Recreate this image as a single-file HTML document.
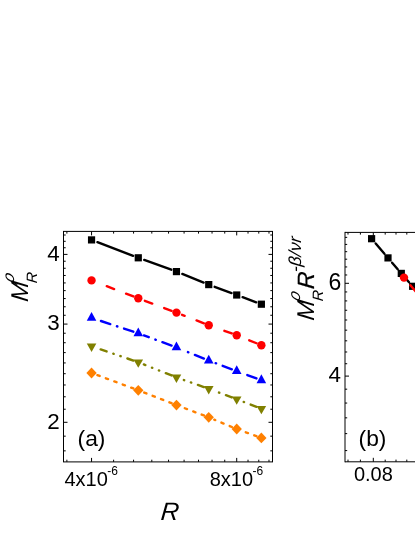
<!DOCTYPE html>
<html><head><meta charset="utf-8"><title>chart</title>
<style>html,body{margin:0;padding:0;background:#fff;}body{width:415px;height:537px;overflow:hidden;font-family:"Liberation Sans",sans-serif;}svg{display:block;will-change:transform;}</style>
</head><body>
<svg width="415" height="537" viewBox="0 0 415 537"><rect x="63.50" y="231.40" width="209.00" height="230.50" fill="none" stroke="#000" stroke-width="1.0"/>
<line x1="66.88" y1="461.90" x2="66.88" y2="459.70" stroke="#000" stroke-width="1.0" />
<line x1="66.88" y1="231.40" x2="66.88" y2="233.60" stroke="#000" stroke-width="1.0" />
<line x1="91.55" y1="461.90" x2="91.55" y2="457.90" stroke="#000" stroke-width="1.0" />
<line x1="91.55" y1="231.40" x2="91.55" y2="235.40" stroke="#000" stroke-width="1.0" />
<line x1="113.61" y1="461.90" x2="113.61" y2="459.70" stroke="#000" stroke-width="1.0" />
<line x1="113.61" y1="231.40" x2="113.61" y2="233.60" stroke="#000" stroke-width="1.0" />
<line x1="133.57" y1="461.90" x2="133.57" y2="459.70" stroke="#000" stroke-width="1.0" />
<line x1="133.57" y1="231.40" x2="133.57" y2="233.60" stroke="#000" stroke-width="1.0" />
<line x1="151.80" y1="461.90" x2="151.80" y2="459.70" stroke="#000" stroke-width="1.0" />
<line x1="151.80" y1="231.40" x2="151.80" y2="233.60" stroke="#000" stroke-width="1.0" />
<line x1="168.56" y1="461.90" x2="168.56" y2="459.70" stroke="#000" stroke-width="1.0" />
<line x1="168.56" y1="231.40" x2="168.56" y2="233.60" stroke="#000" stroke-width="1.0" />
<line x1="184.08" y1="461.90" x2="184.08" y2="459.70" stroke="#000" stroke-width="1.0" />
<line x1="184.08" y1="231.40" x2="184.08" y2="233.60" stroke="#000" stroke-width="1.0" />
<line x1="198.53" y1="461.90" x2="198.53" y2="459.70" stroke="#000" stroke-width="1.0" />
<line x1="198.53" y1="231.40" x2="198.53" y2="233.60" stroke="#000" stroke-width="1.0" />
<line x1="212.04" y1="461.90" x2="212.04" y2="459.70" stroke="#000" stroke-width="1.0" />
<line x1="212.04" y1="231.40" x2="212.04" y2="233.60" stroke="#000" stroke-width="1.0" />
<line x1="224.74" y1="461.90" x2="224.74" y2="459.70" stroke="#000" stroke-width="1.0" />
<line x1="224.74" y1="231.40" x2="224.74" y2="233.60" stroke="#000" stroke-width="1.0" />
<line x1="236.71" y1="461.90" x2="236.71" y2="457.90" stroke="#000" stroke-width="1.0" />
<line x1="236.71" y1="231.40" x2="236.71" y2="235.40" stroke="#000" stroke-width="1.0" />
<line x1="248.03" y1="461.90" x2="248.03" y2="459.70" stroke="#000" stroke-width="1.0" />
<line x1="248.03" y1="231.40" x2="248.03" y2="233.60" stroke="#000" stroke-width="1.0" />
<line x1="258.77" y1="461.90" x2="258.77" y2="459.70" stroke="#000" stroke-width="1.0" />
<line x1="258.77" y1="231.40" x2="258.77" y2="233.60" stroke="#000" stroke-width="1.0" />
<line x1="268.99" y1="461.90" x2="268.99" y2="459.70" stroke="#000" stroke-width="1.0" />
<line x1="268.99" y1="231.40" x2="268.99" y2="233.60" stroke="#000" stroke-width="1.0" />
<line x1="63.50" y1="450.85" x2="65.70" y2="450.85" stroke="#000" stroke-width="1.0" />
<line x1="272.50" y1="450.85" x2="270.30" y2="450.85" stroke="#000" stroke-width="1.0" />
<line x1="63.50" y1="436.16" x2="65.70" y2="436.16" stroke="#000" stroke-width="1.0" />
<line x1="272.50" y1="436.16" x2="270.30" y2="436.16" stroke="#000" stroke-width="1.0" />
<line x1="63.50" y1="422.31" x2="67.50" y2="422.31" stroke="#000" stroke-width="1.0" />
<line x1="272.50" y1="422.31" x2="268.50" y2="422.31" stroke="#000" stroke-width="1.0" />
<line x1="63.50" y1="409.22" x2="65.70" y2="409.22" stroke="#000" stroke-width="1.0" />
<line x1="272.50" y1="409.22" x2="270.30" y2="409.22" stroke="#000" stroke-width="1.0" />
<line x1="63.50" y1="396.79" x2="65.70" y2="396.79" stroke="#000" stroke-width="1.0" />
<line x1="272.50" y1="396.79" x2="270.30" y2="396.79" stroke="#000" stroke-width="1.0" />
<line x1="63.50" y1="384.97" x2="65.70" y2="384.97" stroke="#000" stroke-width="1.0" />
<line x1="272.50" y1="384.97" x2="270.30" y2="384.97" stroke="#000" stroke-width="1.0" />
<line x1="63.50" y1="373.70" x2="65.70" y2="373.70" stroke="#000" stroke-width="1.0" />
<line x1="272.50" y1="373.70" x2="270.30" y2="373.70" stroke="#000" stroke-width="1.0" />
<line x1="63.50" y1="362.93" x2="65.70" y2="362.93" stroke="#000" stroke-width="1.0" />
<line x1="272.50" y1="362.93" x2="270.30" y2="362.93" stroke="#000" stroke-width="1.0" />
<line x1="63.50" y1="352.62" x2="65.70" y2="352.62" stroke="#000" stroke-width="1.0" />
<line x1="272.50" y1="352.62" x2="270.30" y2="352.62" stroke="#000" stroke-width="1.0" />
<line x1="63.50" y1="342.73" x2="65.70" y2="342.73" stroke="#000" stroke-width="1.0" />
<line x1="272.50" y1="342.73" x2="270.30" y2="342.73" stroke="#000" stroke-width="1.0" />
<line x1="63.50" y1="333.23" x2="65.70" y2="333.23" stroke="#000" stroke-width="1.0" />
<line x1="272.50" y1="333.23" x2="270.30" y2="333.23" stroke="#000" stroke-width="1.0" />
<line x1="63.50" y1="324.09" x2="67.50" y2="324.09" stroke="#000" stroke-width="1.0" />
<line x1="272.50" y1="324.09" x2="268.50" y2="324.09" stroke="#000" stroke-width="1.0" />
<line x1="63.50" y1="315.28" x2="65.70" y2="315.28" stroke="#000" stroke-width="1.0" />
<line x1="272.50" y1="315.28" x2="270.30" y2="315.28" stroke="#000" stroke-width="1.0" />
<line x1="63.50" y1="306.78" x2="65.70" y2="306.78" stroke="#000" stroke-width="1.0" />
<line x1="272.50" y1="306.78" x2="270.30" y2="306.78" stroke="#000" stroke-width="1.0" />
<line x1="63.50" y1="298.57" x2="65.70" y2="298.57" stroke="#000" stroke-width="1.0" />
<line x1="272.50" y1="298.57" x2="270.30" y2="298.57" stroke="#000" stroke-width="1.0" />
<line x1="63.50" y1="290.62" x2="65.70" y2="290.62" stroke="#000" stroke-width="1.0" />
<line x1="272.50" y1="290.62" x2="270.30" y2="290.62" stroke="#000" stroke-width="1.0" />
<line x1="63.50" y1="282.93" x2="65.70" y2="282.93" stroke="#000" stroke-width="1.0" />
<line x1="272.50" y1="282.93" x2="270.30" y2="282.93" stroke="#000" stroke-width="1.0" />
<line x1="63.50" y1="275.48" x2="65.70" y2="275.48" stroke="#000" stroke-width="1.0" />
<line x1="272.50" y1="275.48" x2="270.30" y2="275.48" stroke="#000" stroke-width="1.0" />
<line x1="63.50" y1="268.25" x2="65.70" y2="268.25" stroke="#000" stroke-width="1.0" />
<line x1="272.50" y1="268.25" x2="270.30" y2="268.25" stroke="#000" stroke-width="1.0" />
<line x1="63.50" y1="261.22" x2="65.70" y2="261.22" stroke="#000" stroke-width="1.0" />
<line x1="272.50" y1="261.22" x2="270.30" y2="261.22" stroke="#000" stroke-width="1.0" />
<line x1="63.50" y1="254.40" x2="67.50" y2="254.40" stroke="#000" stroke-width="1.0" />
<line x1="272.50" y1="254.40" x2="268.50" y2="254.40" stroke="#000" stroke-width="1.0" />
<line x1="63.50" y1="247.76" x2="65.70" y2="247.76" stroke="#000" stroke-width="1.0" />
<line x1="272.50" y1="247.76" x2="270.30" y2="247.76" stroke="#000" stroke-width="1.0" />
<line x1="63.50" y1="241.30" x2="65.70" y2="241.30" stroke="#000" stroke-width="1.0" />
<line x1="272.50" y1="241.30" x2="270.30" y2="241.30" stroke="#000" stroke-width="1.0" />
<line x1="63.50" y1="235.01" x2="65.70" y2="235.01" stroke="#000" stroke-width="1.0" />
<line x1="272.50" y1="235.01" x2="270.30" y2="235.01" stroke="#000" stroke-width="1.0" />
<line x1="345.00" y1="231.90" x2="345.00" y2="462.30" stroke="#000" stroke-width="1.0" />
<line x1="345.00" y1="232.40" x2="415.00" y2="232.40" stroke="#000" stroke-width="1.0" />
<line x1="345.00" y1="461.80" x2="415.00" y2="461.80" stroke="#000" stroke-width="1.0" />
<line x1="348.00" y1="461.80" x2="348.00" y2="459.60" stroke="#000" stroke-width="1.0" />
<line x1="348.00" y1="232.40" x2="348.00" y2="234.60" stroke="#000" stroke-width="1.0" />
<line x1="360.40" y1="461.80" x2="360.40" y2="459.60" stroke="#000" stroke-width="1.0" />
<line x1="360.40" y1="232.40" x2="360.40" y2="234.60" stroke="#000" stroke-width="1.0" />
<line x1="373.30" y1="461.80" x2="373.30" y2="457.80" stroke="#000" stroke-width="1.0" />
<line x1="373.30" y1="232.40" x2="373.30" y2="236.40" stroke="#000" stroke-width="1.0" />
<line x1="385.20" y1="461.80" x2="385.20" y2="459.60" stroke="#000" stroke-width="1.0" />
<line x1="385.20" y1="232.40" x2="385.20" y2="234.60" stroke="#000" stroke-width="1.0" />
<line x1="396.00" y1="461.80" x2="396.00" y2="459.60" stroke="#000" stroke-width="1.0" />
<line x1="396.00" y1="232.40" x2="396.00" y2="234.60" stroke="#000" stroke-width="1.0" />
<line x1="406.80" y1="461.80" x2="406.80" y2="459.60" stroke="#000" stroke-width="1.0" />
<line x1="406.80" y1="232.40" x2="406.80" y2="234.60" stroke="#000" stroke-width="1.0" />
<line x1="345.00" y1="450.58" x2="347.20" y2="450.58" stroke="#000" stroke-width="1.0" />
<line x1="345.00" y1="433.62" x2="347.20" y2="433.62" stroke="#000" stroke-width="1.0" />
<line x1="345.00" y1="417.83" x2="347.20" y2="417.83" stroke="#000" stroke-width="1.0" />
<line x1="345.00" y1="403.06" x2="347.20" y2="403.06" stroke="#000" stroke-width="1.0" />
<line x1="345.00" y1="389.18" x2="347.20" y2="389.18" stroke="#000" stroke-width="1.0" />
<line x1="345.00" y1="376.10" x2="349.00" y2="376.10" stroke="#000" stroke-width="1.0" />
<line x1="345.00" y1="363.73" x2="347.20" y2="363.73" stroke="#000" stroke-width="1.0" />
<line x1="345.00" y1="351.99" x2="347.20" y2="351.99" stroke="#000" stroke-width="1.0" />
<line x1="345.00" y1="340.82" x2="347.20" y2="340.82" stroke="#000" stroke-width="1.0" />
<line x1="345.00" y1="330.17" x2="347.20" y2="330.17" stroke="#000" stroke-width="1.0" />
<line x1="345.00" y1="320.00" x2="347.20" y2="320.00" stroke="#000" stroke-width="1.0" />
<line x1="345.00" y1="310.26" x2="347.20" y2="310.26" stroke="#000" stroke-width="1.0" />
<line x1="345.00" y1="300.91" x2="347.20" y2="300.91" stroke="#000" stroke-width="1.0" />
<line x1="345.00" y1="291.94" x2="347.20" y2="291.94" stroke="#000" stroke-width="1.0" />
<line x1="345.00" y1="283.30" x2="349.00" y2="283.30" stroke="#000" stroke-width="1.0" />
<line x1="345.00" y1="274.98" x2="347.20" y2="274.98" stroke="#000" stroke-width="1.0" />
<line x1="345.00" y1="266.94" x2="347.20" y2="266.94" stroke="#000" stroke-width="1.0" />
<line x1="345.00" y1="259.19" x2="347.20" y2="259.19" stroke="#000" stroke-width="1.0" />
<line x1="345.00" y1="251.68" x2="347.20" y2="251.68" stroke="#000" stroke-width="1.0" />
<line x1="345.00" y1="244.41" x2="347.20" y2="244.41" stroke="#000" stroke-width="1.0" />
<line x1="345.00" y1="237.37" x2="347.20" y2="237.37" stroke="#000" stroke-width="1.0" />
<line x1="133.14" y1="255.83" x2="97.43" y2="242.15" stroke="#000000" stroke-width="2.4" stroke-linecap="round" />
<line x1="171.29" y1="269.73" x2="144.20" y2="259.94" stroke="#000000" stroke-width="2.4" stroke-linecap="round" />
<line x1="203.64" y1="282.55" x2="182.31" y2="273.95" stroke="#000000" stroke-width="2.4" stroke-linecap="round" />
<line x1="231.55" y1="293.08" x2="214.65" y2="286.80" stroke="#000000" stroke-width="2.4" stroke-linecap="round" />
<line x1="256.22" y1="302.28" x2="242.61" y2="297.20" stroke="#000000" stroke-width="2.4" stroke-linecap="round" />
<line x1="133.42" y1="296.44" x2="97.15" y2="282.55" stroke="#ff0000" stroke-width="2.4" stroke-linecap="round" stroke-dasharray="7.9 12.75"/>
<line x1="171.59" y1="310.78" x2="143.90" y2="300.40" stroke="#ff0000" stroke-width="2.4" stroke-linecap="round" stroke-dasharray="7.9 12.75"/>
<line x1="203.90" y1="323.31" x2="182.05" y2="314.78" stroke="#ff0000" stroke-width="2.4" stroke-linecap="round" stroke-dasharray="7.9 12.75"/>
<line x1="231.81" y1="333.45" x2="214.39" y2="327.22" stroke="#ff0000" stroke-width="2.4" stroke-linecap="round" stroke-dasharray="7.9 12.75"/>
<line x1="256.55" y1="343.25" x2="242.27" y2="337.45" stroke="#ff0000" stroke-width="2.4" stroke-linecap="round" stroke-dasharray="7.9 12.75"/>
<line x1="133.34" y1="331.67" x2="97.25" y2="319.78" stroke="#0000ff" stroke-width="2.4" stroke-linecap="round" stroke-dasharray="9.8 7.0 0.5 7.0"/>
<line x1="171.58" y1="345.60" x2="143.91" y2="335.38" stroke="#0000ff" stroke-width="2.4" stroke-linecap="round" stroke-dasharray="9.8 7.0 0.5 7.0"/>
<line x1="203.93" y1="358.63" x2="182.01" y2="349.67" stroke="#0000ff" stroke-width="2.4" stroke-linecap="round" stroke-dasharray="9.8 7.0 0.5 7.0"/>
<line x1="231.84" y1="369.27" x2="214.36" y2="362.71" stroke="#0000ff" stroke-width="2.4" stroke-linecap="round" stroke-dasharray="9.8 7.0 0.5 7.0"/>
<line x1="256.49" y1="378.40" x2="242.34" y2="373.18" stroke="#0000ff" stroke-width="2.4" stroke-linecap="round" stroke-dasharray="9.8 7.0 0.5 7.0"/>
<line x1="133.36" y1="360.52" x2="97.23" y2="348.23" stroke="#808000" stroke-width="2.4" stroke-linecap="round" stroke-dasharray="6.3 7.05 0.4 7.05 0.4 7.05"/>
<line x1="171.63" y1="375.48" x2="143.85" y2="364.42" stroke="#808000" stroke-width="2.4" stroke-linecap="round" stroke-dasharray="6.3 7.05 0.4 7.05 0.4 7.05"/>
<line x1="203.84" y1="387.07" x2="182.12" y2="379.40" stroke="#808000" stroke-width="2.4" stroke-linecap="round" stroke-dasharray="6.3 7.05 0.4 7.05 0.4 7.05"/>
<line x1="231.83" y1="397.39" x2="214.37" y2="390.89" stroke="#808000" stroke-width="2.4" stroke-linecap="round" stroke-dasharray="6.3 7.05 0.4 7.05 0.4 7.05"/>
<line x1="256.52" y1="406.83" x2="242.31" y2="401.36" stroke="#808000" stroke-width="2.4" stroke-linecap="round" stroke-dasharray="6.3 7.05 0.4 7.05 0.4 7.05"/>
<line x1="133.40" y1="388.49" x2="97.18" y2="375.08" stroke="#ff8000" stroke-width="2.4" stroke-linecap="round" stroke-dasharray="2.4 6.6"/>
<line x1="171.61" y1="403.22" x2="143.87" y2="392.47" stroke="#ff8000" stroke-width="2.4" stroke-linecap="round" stroke-dasharray="2.4 6.6"/>
<line x1="203.88" y1="415.46" x2="182.07" y2="407.22" stroke="#ff8000" stroke-width="2.4" stroke-linecap="round" stroke-dasharray="2.4 6.6"/>
<line x1="231.91" y1="426.99" x2="214.28" y2="419.62" stroke="#ff8000" stroke-width="2.4" stroke-linecap="round" stroke-dasharray="2.4 6.6"/>
<line x1="256.48" y1="436.14" x2="242.35" y2="431.04" stroke="#ff8000" stroke-width="2.4" stroke-linecap="round" stroke-dasharray="2.4 6.6"/>
<rect x="87.95" y="236.30" width="7.2" height="7.2" fill="#000000"/>
<rect x="134.68" y="254.20" width="7.2" height="7.2" fill="#000000"/>
<rect x="172.86" y="268.00" width="7.2" height="7.2" fill="#000000"/>
<rect x="205.14" y="281.00" width="7.2" height="7.2" fill="#000000"/>
<rect x="233.11" y="291.40" width="7.2" height="7.2" fill="#000000"/>
<rect x="257.77" y="300.60" width="7.2" height="7.2" fill="#000000"/>
<circle cx="91.55" cy="280.40" r="4.2" fill="#ff0000"/>
<circle cx="138.28" cy="298.30" r="4.2" fill="#ff0000"/>
<circle cx="176.46" cy="312.60" r="4.2" fill="#ff0000"/>
<circle cx="208.74" cy="325.20" r="4.2" fill="#ff0000"/>
<circle cx="236.71" cy="335.20" r="4.2" fill="#ff0000"/>
<circle cx="261.37" cy="345.20" r="4.2" fill="#ff0000"/>
<polygon points="91.55,312.03 86.75,320.83 96.35,320.83" fill="#0000ff"/>
<polygon points="138.28,327.43 133.48,336.23 143.08,336.23" fill="#0000ff"/>
<polygon points="176.46,341.53 171.66,350.33 181.26,350.33" fill="#0000ff"/>
<polygon points="208.74,354.73 203.94,363.53 213.54,363.53" fill="#0000ff"/>
<polygon points="236.71,365.23 231.91,374.03 241.51,374.03" fill="#0000ff"/>
<polygon points="261.37,374.33 256.57,383.13 266.17,383.13" fill="#0000ff"/>
<polygon points="91.55,351.90 86.75,343.50 96.35,343.50" fill="#808000"/>
<polygon points="138.28,367.80 133.48,359.40 143.08,359.40" fill="#808000"/>
<polygon points="176.46,383.00 171.66,374.60 181.26,374.60" fill="#808000"/>
<polygon points="208.74,394.40 203.94,386.00 213.54,386.00" fill="#808000"/>
<polygon points="236.71,404.80 231.91,396.40 241.51,396.40" fill="#808000"/>
<polygon points="261.37,414.30 256.57,405.90 266.17,405.90" fill="#808000"/>
<polygon points="91.55,367.60 96.70,373.00 91.55,378.40 86.40,373.00" fill="#ff8000"/>
<polygon points="138.28,384.90 143.43,390.30 138.28,395.70 133.13,390.30" fill="#ff8000"/>
<polygon points="176.46,399.70 181.61,405.10 176.46,410.50 171.31,405.10" fill="#ff8000"/>
<polygon points="208.74,411.90 213.89,417.30 208.74,422.70 203.59,417.30" fill="#ff8000"/>
<polygon points="236.71,423.60 241.86,429.00 236.71,434.40 231.56,429.00" fill="#ff8000"/>
<polygon points="261.37,432.50 266.52,437.90 261.37,443.30 256.22,437.90" fill="#ff8000"/>
<clipPath id="cb"><rect x="0" y="0" width="415" height="537"/></clipPath>
<line x1="384.43" y1="253.72" x2="375.69" y2="243.49" stroke="#000000" stroke-width="2.4" stroke-linecap="round" />
<line x1="397.72" y1="269.23" x2="392.10" y2="262.68" stroke="#000000" stroke-width="2.4" stroke-linecap="round" />
<line x1="409.02" y1="282.17" x2="405.46" y2="278.13" stroke="#000000" stroke-width="2.4" stroke-linecap="round" />
<line x1="420.33" y1="294.90" x2="416.85" y2="291.00" stroke="#000000" stroke-width="2.4" stroke-linecap="round" />
<rect x="368.00" y="235.10" width="7.2" height="7.2" fill="#000000"/>
<rect x="384.40" y="254.30" width="7.2" height="7.2" fill="#000000"/>
<rect x="397.70" y="269.80" width="7.2" height="7.2" fill="#000000"/>
<rect x="409.05" y="282.70" width="7.2" height="7.2" fill="#000000"/>
<rect x="420.40" y="295.40" width="7.2" height="7.2" fill="#000000"/>
<line x1="404.0" y1="277.6" x2="419.4" y2="296.0" stroke="#ff0000" stroke-width="2.4" stroke-linecap="round" stroke-dasharray="7.9 12.75" stroke-dashoffset="10.65"/>
<circle cx="404.00" cy="277.60" r="4.2" fill="#ff0000"/>
<text x="59.80" y="261.00" font-size="22.4" text-anchor="end" font-family="Liberation Sans, sans-serif" >4</text>
<text x="59.80" y="330.40" font-size="22.4" text-anchor="end" font-family="Liberation Sans, sans-serif" >3</text>
<text x="59.80" y="428.90" font-size="22.4" text-anchor="end" font-family="Liberation Sans, sans-serif" >2</text>
<text x="341.20" y="290.00" font-size="23" text-anchor="end" font-family="Liberation Sans, sans-serif" >6</text>
<text x="340.90" y="382.00" font-size="22.4" text-anchor="end" font-family="Liberation Sans, sans-serif" >4</text>
<text x="77.60" y="446.10" font-size="22.8" text-anchor="start" font-family="Liberation Sans, sans-serif" >(a)</text>
<text x="358.60" y="445.80" font-size="22.8" text-anchor="start" font-family="Liberation Sans, sans-serif" >(b)</text>
<text x="373.40" y="481.20" font-size="20" text-anchor="middle" font-family="Liberation Sans, sans-serif" >0.08</text>
<text x="64.40" y="485.50" font-size="20" text-anchor="start" font-family="Liberation Sans, sans-serif">4x10<tspan font-size="12" dx="-0.6" dy="-10.7">-6</tspan></text>
<text x="209.70" y="485.50" font-size="20" text-anchor="start" font-family="Liberation Sans, sans-serif">8x10<tspan font-size="12" dx="-0.6" dy="-10.7">-6</tspan></text>
<g transform="translate(160.2,519.8) skewX(-5)"><text x="0" y="0" font-size="25.2" font-style="italic" font-family="Liberation Sans, sans-serif">R</text></g>
<g transform="translate(28,302.3) rotate(-90) skewX(-6)"><text x="0" y="0" font-size="24.3" font-style="italic" font-family="Liberation Sans, sans-serif">M</text><text x="19.6" y="8.5" font-size="15" font-style="italic" font-family="Liberation Sans, sans-serif">R</text><g transform="translate(17.2,-13.6) skewX(-14)"><text x="0" y="0" font-size="16" font-style="italic" font-family="Liberation Sans, sans-serif">ρ</text></g></g>
<g transform="translate(313.7,321) rotate(-90) skewX(-6)"><text x="0" y="0" font-size="24.3" font-style="italic" font-family="Liberation Sans, sans-serif">M</text><text x="20.6" y="9.4" font-size="15" font-style="italic" font-family="Liberation Sans, sans-serif">R</text><g transform="translate(17.2,-14.2) skewX(-14)"><text x="0" y="0" font-size="16.5" font-style="italic" font-family="Liberation Sans, sans-serif">ρ</text></g><text x="31.4" y="0" font-size="23.5" font-style="italic" stroke="#000" stroke-width="0.2" font-family="Liberation Sans, sans-serif">R</text><text x="47.2" y="-12.4" font-size="17.5" font-style="italic" font-family="Liberation Sans, sans-serif">-β/νr</text></g></svg>
</body></html>
